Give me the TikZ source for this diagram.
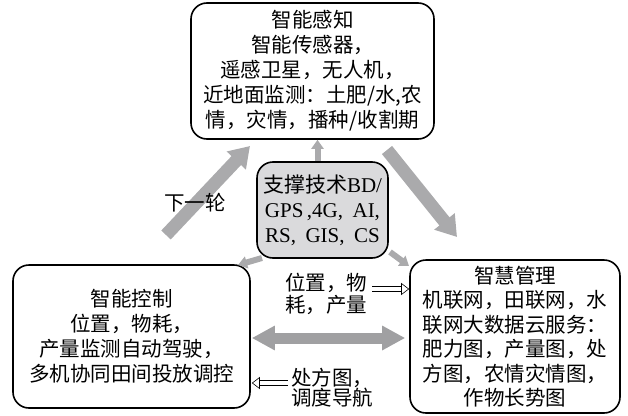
\documentclass[tikz,border=0pt]{standalone}
\usepackage{fontspec}
\setmainfont{Liberation Serif}
\newfontfamily\cjk{Noto Sans CJK SC}
\usetikzlibrary{arrows.meta,calc}
\newcommand\zh[1]{{\cjk #1}}
\definecolor{arrgray}{RGB}{170,170,172}
\definecolor{dblgray}{RGB}{160,160,162}
\definecolor{boxgray}{RGB}{218,218,220}
\begin{document}
\begin{tikzpicture}[x=1pt,y=-1pt,
  box/.style={draw=black,line width=1.6pt,rounded corners=16pt,align=center,inner sep=0pt,
    font=\cjk\fontsize{20.5}{25}\selectfont},
  lab/.style={align=center,inner sep=0pt,font=\cjk\fontsize{20.5}{22}\selectfont},
  bigarrow/.style={draw=arrgray,line width=13pt,-{Triangle[length=20pt,width=25pt]}},
  smallarrow/.style={draw=arrgray,line width=6pt,-{Triangle[length=9pt,width=12pt]}},
  dblarrow/.style={draw=dblgray,line width=11pt,{Triangle[length=23pt,width=23pt]}-{Triangle[length=23pt,width=23pt]}},
  hollow/.style={draw=black,line width=0.6pt,double=white,double distance=4pt,-{Triangle[open,length=8pt,width=12pt,fill=white]}}
]
\useasboundingbox (0,0) rectangle (628,415);
\node[box,minimum width=243pt,minimum height=136pt] (top) at (312.5,71)
  {智能感知\\智能传感器，\\遥感卫星，无人机，\\近地面监测：土肥/水,农\\情，灾情，播种/收割期};
\node[box,fill=boxgray,minimum width=131pt,minimum height=96pt,font=\rmfamily\fontsize{21}{25}\selectfont] (mid) at (322.5,210)
  {\zh{支撑技术}BD/\\GPS\,,4G,\hspace{0.45em}AI,\\RS,\hspace{0.45em}GIS,\hspace{0.45em}CS};
\node[box,minimum width=237pt,minimum height=143pt] (left) at (131.5,336.5)
  {智能控制\\位置，物耗，\\产量监测自动驾驶，\\多机协同田间投放调控};
\node[box,minimum width=210pt,minimum height=153pt,font=\cjk\fontsize{20.5}{24.5}\selectfont] (right) at (515,336.5)
  {智慧管理\\机联网，田联网，水\\联网大数据云服务：\\肥力图，产量图，处\\方图，农情灾情图，\\作物长势图};
% arrows
\coordinate (a1s) at (166,235); \coordinate (a1e) at (250,146);
\coordinate (a2s) at (387,150); \coordinate (a2e) at (457,237);
\draw[bigarrow] (a1s) -- (a1e);
\draw[bigarrow] (a2s) -- (a2e);
\draw[smallarrow] ($(mid.north)+(-5,0)$) -- ($(mid.north |- top.south)+(-5,0)$);
\coordinate (a4s) at (262,258); \coordinate (a4e) at (238,265);
\coordinate (a5s) at (390,252); \coordinate (a5e) at (409,266);
\draw[smallarrow] (a4s) -- (a4e);
\draw[smallarrow] (a5s) -- (a5e);
\draw[dblarrow] ($(left.east)+(1,1.5)$) -- ($(right.west)+(-4,1.5)$);
% labels
\node[lab] (next) at (195,203) {下一轮};
\node[lab] (info) at (326,294) {位置，物\\耗，产量};
\node[lab,font=\cjk\fontsize{20.5}{20}\selectfont] (presc) at (332,388) {处方图，\\调度导航};
\draw[hollow] ($(info.east)+(5,-5)$) -- ($(right.west |- info.east)+(0,-5)$);
\draw[hollow] ($(presc.west)+(-3,-5)$) -- ($(left.east |- presc.west)+(1,-5)$);
\end{tikzpicture}
\end{document}
